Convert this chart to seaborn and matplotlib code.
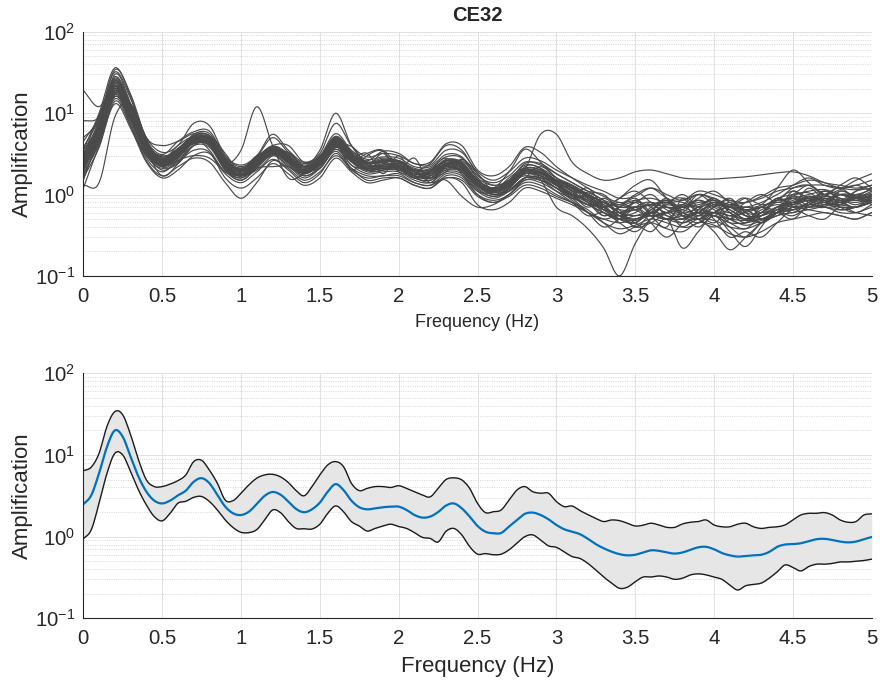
import numpy as np
import pandas as pd
import matplotlib
matplotlib.use("Agg")
import matplotlib.pyplot as plt
from matplotlib.ticker import LogLocator, FuncFormatter, NullLocator
import seaborn as sns

# ---------------------------------------------------------------------------
# Site CE32: spectral amplification of individual records (0.1 Hz knots)
# ---------------------------------------------------------------------------
record_freq = [round(0.1 * i, 1) for i in range(51)]

site_records = [
    [3.0, 8.0, 26, 12, 4.2, 2.8, 3.4, 5.5, 5.6, 2.8, 2.0, 2.6, 3.9, 3.2, 2.3, 2.9, 5.2, 3.4, 2.5, 2.8, 2.6, 2.0, 2.1, 2.9, 2.8, 1.6, 1.3, 1.5, 2.3, 2.1, 1.6, 1.3, 0.9, 0.7, 0.9, 1.1, 0.8, 0.6, 0.75, 1.0, 0.75, 0.6, 0.8, 1.0, 0.8, 1.0, 1.3, 1.0, 0.85, 1.1, 1.2],
    [1.8, 4.2, 15, 7.5, 2.8, 1.9, 2.6, 3.0, 2.8, 1.9, 1.5, 2.1, 2.2, 2.2, 1.6, 2.1, 3.6, 2.3, 1.8, 1.9, 1.9, 1.5, 1.4, 1.9, 1.8, 1.1, 0.9, 1.1, 1.6, 1.5, 1.1, 0.8, 0.55, 0.6, 0.45, 0.35, 0.5, 0.6, 0.4, 0.45, 0.6, 0.45, 0.38, 0.55, 0.6, 0.5, 0.75, 0.9, 0.7, 0.6, 0.75],
    [19, 12, 22, 11, 4.0, 3.0, 3.5, 5.0, 4.8, 2.6, 2.1, 2.7, 3.3, 2.9, 2.2, 2.7, 4.6, 3.0, 2.4, 2.6, 2.5, 2.0, 1.9, 2.6, 2.5, 1.5, 1.2, 1.4, 2.0, 1.9, 1.5, 1.1, 1.0, 0.7, 0.8, 0.65, 0.55, 0.8, 0.9, 0.6, 0.7, 0.9, 0.6, 0.6, 0.85, 1.1, 0.9, 0.8, 1.1, 0.95, 0.85],
    [1.3, 1.4, 9.0, 13, 4.5, 2.2, 2.4, 4.0, 4.2, 2.2, 1.7, 2.3, 3.2, 2.5, 1.9, 2.4, 4.0, 2.6, 2.0, 2.2, 2.1, 1.7, 1.6, 2.2, 2.0, 1.3, 1.0, 1.2, 1.8, 1.7, 1.3, 1.0, 0.75, 0.8, 0.55, 0.45, 0.7, 0.85, 0.55, 0.6, 0.8, 0.5, 0.45, 0.7, 0.65, 0.95, 1.05, 0.8, 0.75, 0.9, 0.8],
    [2.8, 6.5, 22, 10, 3.8, 2.6, 3.0, 4.5, 4.0, 2.4, 3.5, 12, 4.0, 1.6, 1.8, 2.4, 4.0, 2.7, 2.1, 2.4, 2.2, 1.9, 1.7, 2.3, 2.4, 1.4, 1.1, 1.4, 2.0, 1.7, 1.3, 1.2, 0.8, 0.55, 0.7, 0.9, 0.6, 0.5, 0.7, 0.55, 0.6, 0.8, 0.55, 0.45, 0.6, 0.9, 0.75, 1.1, 0.85, 0.7, 1.0],
    [3.5, 7.0, 24, 11, 4.0, 2.7, 3.6, 5.2, 5.0, 2.6, 2.0, 2.8, 3.8, 2.9, 2.2, 3.5, 10, 4.0, 2.5, 2.7, 2.6, 2.1, 2.0, 2.7, 2.5, 1.5, 1.2, 1.5, 2.1, 2.0, 1.5, 1.2, 1.0, 0.8, 0.7, 0.7, 0.75, 0.8, 0.7, 0.75, 0.85, 0.7, 0.65, 0.7, 0.85, 0.9, 1.0, 1.1, 1.0, 0.9, 1.05],
    [2.2, 5.0, 17, 8.5, 3.3, 2.3, 2.9, 4.2, 4.0, 2.1, 1.7, 2.3, 3.1, 2.5, 1.9, 2.3, 3.8, 2.6, 2.0, 2.1, 2.1, 1.7, 1.6, 2.0, 2.0, 1.3, 1.1, 1.3, 2.0, 5.5, 5.5, 2.5, 1.8, 1.5, 1.6, 1.9, 2.0, 1.8, 1.6, 1.55, 1.55, 1.6, 1.65, 1.75, 1.85, 1.9, 1.7, 1.4, 1.3, 1.2, 1.3],
    [2.6, 5.5, 19, 9.0, 3.4, 2.4, 3.1, 4.6, 4.3, 2.2, 1.7, 2.4, 3.4, 2.6, 1.9, 2.5, 4.2, 2.7, 2.1, 2.2, 2.2, 1.8, 1.7, 2.3, 2.1, 1.3, 1.05, 1.25, 1.8, 1.5, 0.7, 0.55, 0.38, 0.22, 0.10, 0.25, 0.5, 0.6, 0.55, 0.5, 0.6, 0.55, 0.5, 0.55, 0.7, 0.8, 0.85, 0.9, 0.85, 0.8, 0.9],
    [1.6, 3.8, 14, 7.0, 2.6, 1.7, 2.2, 2.8, 2.5, 1.4, 0.9, 1.4, 2.6, 2.0, 1.4, 1.8, 3.2, 2.0, 1.6, 1.7, 1.7, 1.4, 1.3, 1.8, 1.7, 1.0, 0.8, 1.0, 1.4, 1.3, 1.0, 0.8, 0.6, 0.45, 0.38, 0.42, 0.5, 0.45, 0.4, 0.5, 0.48, 0.4, 0.38, 0.45, 0.55, 0.6, 0.65, 0.7, 0.6, 0.6, 0.7],
    [4.5, 9.0, 32, 15, 5.0, 3.3, 4.0, 7.5, 7.0, 3.0, 2.3, 3.0, 5.5, 3.5, 2.5, 3.2, 7.5, 4.0, 2.9, 3.2, 3.0, 2.4, 2.3, 3.5, 3.3, 1.9, 1.5, 1.9, 2.8, 2.6, 2.0, 1.6, 1.3, 1.1, 0.9, 0.95, 1.2, 1.0, 0.85, 1.1, 1.0, 0.85, 0.8, 0.95, 1.2, 1.3, 1.5, 1.4, 1.2, 1.3, 1.5],
    [1.2, 4.0, 13, 6.5, 2.5, 1.6, 2.0, 3.0, 3.2, 1.8, 1.4, 1.9, 2.7, 2.1, 1.5, 1.9, 3.0, 2.1, 1.7, 1.7, 1.8, 1.4, 1.3, 1.6, 1.5, 0.95, 0.8, 0.95, 1.3, 1.2, 0.95, 0.8, 0.65, 0.45, 0.33, 0.4, 0.45, 0.38, 0.35, 0.45, 0.42, 0.33, 0.3, 0.35, 0.45, 0.5, 0.55, 0.6, 0.55, 0.5, 0.6],
    [2.4, 6.5, 21, 10, 3.7, 2.6, 3.3, 4.9, 4.8, 2.4, 1.9, 2.6, 3.6, 2.8, 2.0, 2.6, 4.5, 2.9, 3.2, 1.8, 3.0, 1.6, 1.9, 2.5, 2.3, 1.4, 1.15, 1.4, 2.0, 1.9, 1.4, 1.0, 1.2, 0.7, 0.5, 0.85, 0.55, 0.4, 0.9, 0.6, 0.45, 0.7, 0.9, 0.5, 0.6, 1.1, 0.8, 0.7, 1.1, 0.9, 0.8],
    [2.0, 5.2, 18, 9.0, 3.2, 2.2, 2.9, 4.3, 4.1, 2.1, 1.6, 2.3, 3.3, 2.5, 1.8, 2.4, 4.1, 2.6, 2.0, 2.1, 2.1, 1.7, 1.6, 2.1, 2.0, 1.2, 0.95, 1.15, 1.6, 1.6, 1.2, 0.85, 0.6, 0.5, 0.55, 0.45, 0.35, 0.5, 0.22, 0.35, 0.55, 0.4, 0.3, 0.45, 0.6, 0.55, 0.7, 0.8, 0.65, 0.7, 0.85],
    [3.2, 7.5, 25, 12, 4.3, 2.9, 3.7, 5.3, 5.2, 2.6, 2.0, 2.9, 4.0, 4.0, 2.5, 2.9, 5.0, 3.1, 2.5, 2.6, 2.6, 2.0, 2.0, 2.6, 2.4, 1.5, 1.2, 1.45, 2.1, 2.0, 1.5, 1.2, 0.95, 0.65, 0.5, 0.45, 0.6, 0.55, 0.45, 0.5, 0.35, 0.21, 0.3, 0.45, 0.6, 0.75, 0.85, 0.95, 0.9, 0.85, 1.0],
    [2.3, 4.5, 17, 13, 4.5, 2.4, 2.6, 4.0, 5.2, 3.2, 1.8, 2.0, 3.0, 3.3, 2.2, 2.1, 3.8, 3.9, 2.3, 2.0, 2.4, 2.0, 1.6, 1.9, 2.7, 1.8, 1.1, 1.1, 1.6, 2.2, 1.6, 1.2, 1.0, 0.8, 0.6, 0.55, 0.6, 0.75, 0.65, 0.6, 0.8, 0.7, 0.55, 0.55, 0.65, 0.85, 0.9, 0.85, 1.0, 0.85, 0.85],
    [3.0, 9.5, 22, 7.0, 3.0, 2.6, 4.0, 5.0, 3.5, 1.9, 1.9, 3.0, 3.2, 2.2, 1.9, 3.0, 4.0, 2.3, 2.1, 2.5, 2.1, 1.6, 2.0, 2.8, 1.8, 1.1, 1.1, 1.6, 2.1, 1.6, 1.2, 1.0, 0.85, 0.65, 0.6, 0.65, 0.75, 0.6, 0.7, 0.85, 0.65, 0.55, 0.6, 0.7, 0.85, 0.8, 0.9, 1.0, 0.8, 0.9, 1.1],
    [2.7, 6.8, 23, 10.5, 3.9, 2.7, 3.4, 5.0, 4.9, 2.5, 2.0, 2.8, 3.8, 3.0, 2.2, 2.8, 4.8, 3.2, 2.6, 3.4, 3.2, 2.4, 2.5, 4.2, 4.0, 2.0, 1.7, 2.2, 3.8, 3.3, 2.2, 1.6, 1.2, 0.95, 0.8, 0.85, 0.9, 0.8, 0.85, 1.0, 0.9, 0.75, 0.8, 0.9, 1.1, 1.2, 1.3, 1.3, 1.2, 1.15, 1.3],
    [2.1, 5.6, 19, 9.0, 3.3, 2.2, 2.9, 4.3, 4.0, 2.0, 1.6, 2.2, 3.0, 2.3, 1.7, 2.1, 3.4, 2.1, 1.5, 1.6, 1.6, 1.3, 1.2, 1.6, 1.4, 0.75, 0.65, 0.8, 1.2, 1.1, 0.9, 0.75, 0.6, 0.5, 0.45, 0.5, 0.55, 0.5, 0.55, 0.6, 0.55, 0.5, 0.48, 0.5, 0.6, 0.65, 0.7, 0.75, 0.7, 0.7, 0.8],
    [2.9, 7.2, 24, 11, 4.0, 2.8, 3.5, 5.1, 4.8, 2.5, 2.0, 2.7, 3.7, 2.9, 2.1, 2.7, 4.7, 3.0, 2.4, 2.5, 2.5, 2.0, 1.9, 2.6, 2.4, 1.45, 1.2, 1.4, 2.0, 1.9, 1.5, 1.3, 1.0, 0.8, 0.75, 1.0, 1.2, 0.9, 0.7, 0.9, 1.1, 0.8, 0.7, 0.75, 1.2, 2.0, 1.4, 1.0, 1.3, 1.6, 1.2],
    [2.5, 6.2, 20, 9.7, 3.6, 2.5, 3.2, 4.7, 4.6, 2.3, 1.8, 2.5, 3.5, 2.7, 2.0, 2.6, 4.4, 2.0, 3.0, 3.4, 1.9, 1.8, 1.8, 2.4, 2.2, 1.35, 1.1, 1.3, 1.9, 1.8, 1.4, 1.1, 0.8, 0.7, 0.9, 1.3, 1.5, 0.9, 0.6, 0.7, 0.9, 0.6, 0.45, 0.6, 0.8, 0.7, 0.75, 0.95, 0.8, 0.7, 0.9],
    [3.8, 8.5, 28, 13, 4.6, 3.1, 4.5, 5.9, 6.0, 2.9, 2.2, 2.9, 5.0, 3.3, 2.4, 3.0, 5.6, 3.5, 2.7, 2.9, 2.8, 2.2, 2.2, 3.1, 2.9, 1.7, 1.4, 1.7, 2.5, 2.3, 1.8, 1.4, 1.1, 1.0, 0.7, 0.8, 1.0, 0.7, 0.65, 1.0, 0.85, 0.7, 0.9, 0.75, 0.85, 1.2, 1.3, 1.0, 1.15, 1.3, 1.1],
    [1.9, 4.8, 16, 8.0, 3.0, 2.1, 2.7, 4.0, 3.8, 2.0, 1.5, 2.1, 3.1, 2.4, 1.7, 2.2, 3.9, 2.5, 1.9, 2.0, 2.0, 1.6, 1.5, 2.0, 1.9, 1.15, 0.95, 1.1, 1.6, 1.5, 1.2, 0.9, 0.6, 0.4, 0.5, 0.7, 0.45, 0.3, 0.45, 0.7, 0.5, 0.3, 0.35, 0.3, 0.45, 0.65, 0.55, 0.5, 0.7, 0.6, 0.55],
    [3.5, 10, 36, 16, 5.0, 4.0, 4.5, 5.6, 5.2, 2.7, 2.1, 2.8, 3.9, 3.0, 2.2, 2.8, 4.9, 3.1, 2.4, 2.5, 2.5, 2.0, 2.0, 2.6, 2.4, 1.5, 1.2, 1.4, 2.1, 2.0, 1.5, 1.25, 0.9, 0.65, 0.55, 0.8, 0.7, 0.5, 0.6, 0.85, 0.7, 0.55, 0.7, 0.6, 0.7, 0.95, 0.85, 1.0, 1.2, 0.9, 0.95],
    [2.2, 5.0, 18, 8.5, 3.2, 2.0, 2.5, 3.5, 3.3, 1.6, 1.2, 1.6, 2.4, 1.8, 1.3, 1.6, 2.8, 1.9, 1.4, 1.5, 1.6, 1.3, 1.2, 1.7, 1.6, 1.0, 0.85, 1.0, 1.5, 1.4, 1.1, 0.9, 0.75, 0.6, 0.5, 0.48, 0.55, 0.5, 0.5, 0.6, 0.55, 0.45, 0.45, 0.5, 0.6, 0.7, 0.75, 0.8, 0.75, 0.7, 0.8],
    [2.6, 6.0, 20, 9.5, 3.6, 2.5, 3.2, 4.8, 4.4, 2.3, 1.8, 2.5, 3.4, 2.6, 1.9, 2.5, 4.3, 2.8, 2.2, 3.2, 2.0, 2.8, 1.4, 2.4, 2.2, 1.3, 1.1, 1.3, 1.9, 1.8, 1.4, 1.0, 0.7, 0.9, 0.65, 0.4, 0.6, 0.9, 0.55, 0.4, 0.55, 0.35, 0.23, 0.4, 0.7, 0.6, 0.8, 1.1, 0.9, 0.75, 0.95],
    [8.0, 9.0, 25, 11, 3.9, 2.7, 3.3, 4.9, 4.6, 2.4, 1.9, 2.5, 3.5, 2.8, 2.0, 2.6, 4.5, 2.8, 2.3, 2.3, 2.4, 1.9, 1.8, 2.4, 2.3, 1.4, 1.1, 1.35, 1.9, 1.85, 1.45, 1.1, 1.05, 0.85, 0.6, 0.5, 0.65, 0.8, 0.6, 0.55, 0.75, 0.65, 0.5, 0.6, 0.9, 0.75, 0.95, 0.8, 1.0, 0.95, 1.2],
    [2.0, 5.8, 21, 10, 3.5, 1.7, 2.4, 4.6, 4.4, 2.2, 1.7, 2.4, 3.4, 2.6, 1.9, 2.5, 4.2, 2.7, 2.1, 2.2, 2.2, 1.7, 1.7, 2.3, 2.1, 1.3, 1.05, 1.25, 1.8, 1.7, 1.3, 1.05, 0.85, 0.55, 0.7, 0.8, 0.6, 0.75, 1.0, 0.7, 0.55, 0.75, 0.65, 0.55, 0.9, 0.75, 1.2, 0.85, 0.75, 1.1, 1.3],
    [2.8, 6.6, 22, 10, 3.8, 2.6, 3.3, 4.8, 4.7, 2.4, 1.9, 2.6, 3.6, 2.8, 2.0, 2.6, 4.5, 2.9, 2.2, 2.3, 2.3, 1.8, 1.8, 2.4, 2.2, 1.35, 1.1, 1.3, 1.9, 1.8, 1.35, 1.0, 0.9, 0.6, 0.5, 0.7, 0.8, 0.55, 0.5, 0.65, 0.9, 0.6, 0.5, 0.65, 0.75, 0.7, 0.65, 0.6, 0.55, 0.5, 0.6],
    [2.4, 6.0, 19, 9.2, 3.5, 2.4, 3.1, 4.6, 4.5, 2.3, 1.8, 2.5, 3.5, 2.7, 2.0, 2.6, 4.4, 2.8, 2.2, 2.3, 2.3, 1.8, 1.8, 2.4, 2.2, 1.35, 1.1, 1.3, 1.9, 1.8, 1.4, 1.15, 0.95, 0.75, 0.65, 0.65, 0.75, 0.7, 0.7, 0.8, 0.8, 0.7, 0.7, 0.8, 1.0, 1.3, 1.6, 1.3, 1.2, 1.5, 1.8],
    [1.7, 4.5, 16, 8.5, 3.2, 2.3, 3.0, 4.4, 4.2, 2.1, 1.7, 2.3, 3.3, 2.5, 1.8, 2.4, 4.1, 2.6, 2.0, 2.1, 2.1, 1.7, 1.7, 2.2, 2.0, 1.25, 1.0, 1.2, 1.8, 1.7, 1.3, 0.95, 0.75, 0.8, 0.6, 0.4, 0.45, 0.6, 0.75, 0.5, 0.4, 0.5, 0.65, 0.5, 0.55, 0.7, 0.85, 0.7, 0.75, 0.95, 0.8],
    [1.5, 5.5, 30, 13, 4.0, 2.3, 2.8, 4.6, 5.0, 2.5, 1.7, 2.2, 3.8, 3.0, 1.9, 2.3, 4.8, 3.3, 2.0, 2.0, 2.6, 1.9, 1.5, 2.2, 2.6, 1.6, 1.0, 1.2, 2.2, 2.1, 1.3, 0.9, 1.0, 0.75, 0.5, 0.45, 0.65, 0.8, 0.6, 0.5, 0.7, 0.85, 0.6, 0.45, 0.6, 0.8, 0.7, 0.75, 1.0, 0.95, 0.75],
    [2.3, 5.6, 18, 9.0, 3.4, 2.4, 3.0, 4.4, 4.3, 2.2, 1.75, 2.4, 3.3, 2.6, 1.9, 2.4, 3.6, 2.6, 3.2, 3.5, 2.2, 1.6, 1.9, 2.3, 1.9, 1.3, 1.2, 1.4, 1.7, 1.6, 1.5, 1.3, 1.0, 0.7, 0.55, 0.6, 0.8, 0.65, 0.5, 0.6, 0.75, 0.65, 0.5, 0.55, 0.7, 0.65, 0.8, 0.9, 0.8, 0.95, 1.0],
    [5.0, 8.0, 27, 12, 4.3, 2.9, 3.6, 5.3, 5.3, 2.7, 2.1, 2.8, 3.9, 3.1, 2.2, 2.8, 5.1, 3.2, 2.5, 2.6, 2.5, 2.0, 2.4, 4.0, 3.5, 1.8, 1.3, 1.5, 2.4, 2.4, 1.8, 1.4, 1.1, 0.85, 0.75, 0.7, 0.75, 0.85, 0.8, 0.7, 0.8, 0.75, 0.65, 0.7, 0.9, 1.0, 1.1, 1.15, 1.0, 1.0, 1.15],
    [2.1, 5.3, 17, 8.5, 3.3, 2.3, 3.0, 4.3, 4.2, 2.1, 1.7, 2.4, 3.3, 2.5, 1.8, 2.4, 4.0, 2.6, 2.0, 2.1, 2.0, 1.6, 1.4, 1.5, 0.95, 0.7, 0.75, 1.0, 1.5, 1.5, 1.2, 0.95, 0.75, 0.6, 0.5, 0.55, 0.6, 0.5, 0.45, 0.55, 0.6, 0.5, 0.42, 0.48, 0.6, 0.65, 0.75, 0.7, 0.65, 0.7, 0.8],
    [2.7, 8.0, 34, 17, 4.8, 2.6, 3.0, 4.6, 4.7, 2.4, 1.9, 2.6, 3.5, 2.8, 2.1, 2.7, 4.6, 3.0, 2.3, 2.2, 2.3, 1.9, 1.8, 2.3, 2.1, 1.3, 1.1, 1.35, 1.8, 1.7, 1.3, 1.0, 0.8, 0.65, 0.6, 0.7, 0.55, 0.6, 0.75, 0.65, 0.6, 0.5, 0.62, 0.7, 0.6, 0.8, 0.95, 0.85, 0.8, 0.9, 0.95],
    [2.5, 5.8, 19, 9.5, 3.5, 2.5, 3.1, 4.5, 4.3, 2.2, 1.7, 2.3, 3.3, 2.6, 1.9, 2.5, 4.2, 2.7, 2.1, 2.2, 2.2, 1.7, 1.6, 2.1, 2.0, 1.3, 1.2, 1.9, 3.6, 2.5, 1.6, 1.2, 0.95, 0.7, 0.55, 0.5, 0.6, 0.7, 0.55, 0.45, 0.6, 0.7, 0.55, 0.5, 0.65, 0.8, 0.9, 0.75, 0.8, 1.0, 0.9],
]

# ---------------------------------------------------------------------------
# Summary statistics (0.05 Hz knots): mean and the +/- one sigma envelope
# ---------------------------------------------------------------------------
stat_freq = [round(0.05 * i, 2) for i in range(101)]

mean_amp = [
    2.49, 3.2, 6.0, 12.6, 20, 16.7, 9.5, 5.4, 3.55, 2.76,
    2.55, 2.76, 3.2, 3.66, 4.7, 5.2, 4.5, 3.24, 2.33, 1.93,
    1.84, 2.02, 2.51, 3.16, 3.52, 3.27, 2.69, 2.18, 1.99, 2.16,
    2.61, 3.55, 4.4, 3.72, 2.76, 2.29, 2.16, 2.22, 2.29, 2.33,
    2.33, 2.12, 1.84, 1.71, 1.76, 2.0, 2.4, 2.55, 2.22, 1.76,
    1.35, 1.15, 1.10, 1.11, 1.33, 1.6, 1.9, 1.97, 1.84, 1.63,
    1.39, 1.23, 1.15, 1.07, 0.94, 0.81, 0.72, 0.655, 0.61, 0.59,
    0.60, 0.64, 0.68, 0.67, 0.64, 0.62, 0.64, 0.69, 0.74, 0.75,
    0.70, 0.63, 0.59, 0.57, 0.58, 0.59, 0.60, 0.65, 0.75, 0.80,
    0.81, 0.83, 0.88, 0.93, 0.94, 0.91, 0.87, 0.85, 0.87, 0.93,
    0.99,
]

upper_amp = [
    6.4, 7.1, 10.5, 22.4, 34, 31, 17.6, 8.7, 4.95, 4.1,
    4.1, 4.4, 4.85, 5.7, 8.3, 8.6, 6.5, 4.5, 2.8, 2.76,
    3.4, 4.3, 5.2, 5.7, 5.8, 5.4, 4.6, 3.66, 3.16, 4.1,
    5.7, 7.55, 8.3, 7.2, 4.5, 3.66, 3.9, 4.1, 4.1, 4.0,
    4.2, 3.9, 3.55, 3.24, 3.07, 3.9, 5.0, 5.25, 4.95, 3.9,
    2.56, 1.97, 2.02, 2.12, 2.81, 3.72, 4.1, 3.55, 3.4, 3.4,
    2.69, 2.33, 2.37, 2.08, 1.86, 1.67, 1.53, 1.6, 1.57, 1.46,
    1.35, 1.38, 1.46, 1.39, 1.30, 1.30, 1.43, 1.50, 1.53, 1.6,
    1.39, 1.32, 1.32, 1.42, 1.46, 1.32, 1.26, 1.30, 1.32, 1.39,
    1.6, 1.84, 1.93, 1.93, 1.97, 1.84, 1.6, 1.50, 1.53, 1.84,
    1.9,
]

lower_amp = [
    0.94, 1.21, 2.57, 5.97, 10.5, 10.0, 6.25, 3.72, 2.44, 1.76,
    1.56, 1.93, 2.57, 2.71, 3.03, 3.1, 2.69, 2.12, 1.6, 1.29,
    1.13, 1.12, 1.22, 1.6, 2.12, 1.97, 1.53, 1.26, 1.25, 1.24,
    1.42, 1.93, 2.38, 2.02, 1.53, 1.35, 1.17, 1.26, 1.35, 1.42,
    1.33, 1.26, 1.12, 0.98, 0.95, 0.86, 1.16, 1.26, 1.05, 0.755,
    0.61, 0.62, 0.60, 0.61, 0.69, 0.83, 1.0, 1.05, 0.91, 0.77,
    0.74, 0.65, 0.57, 0.54, 0.47, 0.39, 0.32, 0.27, 0.233, 0.24,
    0.28, 0.32, 0.32, 0.33, 0.32, 0.30, 0.31, 0.34, 0.35, 0.34,
    0.32, 0.30, 0.255, 0.222, 0.25, 0.26, 0.27, 0.31, 0.37, 0.45,
    0.42, 0.38, 0.43, 0.46, 0.46, 0.47, 0.49, 0.49, 0.50, 0.51,
    0.53,
]

freq_ticks = [0, 0.5, 1, 1.5, 2, 2.5, 3, 3.5, 4, 4.5, 5]
title_text = "CE32"
x_label = "Frequency (Hz)"
y_label = "Amplification"


def smooth_log(x, y, n=10):
    """Catmull-Rom curve through evenly spaced knots, in log10 amplitude."""
    x = np.asarray(x, float)
    ly = np.log10(np.asarray(y, float))
    p = np.concatenate([[2 * ly[0] - ly[1]], ly, [2 * ly[-1] - ly[-2]]])
    t = np.linspace(0, 1, n, endpoint=False)
    parts = []
    for i in range(len(ly) - 1):
        p0, p1, p2, p3 = p[i], p[i + 1], p[i + 2], p[i + 3]
        parts.append(0.5 * (2 * p1 + (-p0 + p2) * t
                            + (2 * p0 - 5 * p1 + 4 * p2 - p3) * t ** 2
                            + (-p0 + 3 * p1 - 3 * p2 + p3) * t ** 3))
    parts.append([ly[-1]])
    xs = np.linspace(x[0], x[-1], (len(x) - 1) * n + 1)
    return xs, 10 ** np.concatenate(parts)


# long-form table of the individual records
rows = []
for rid, amps in enumerate(site_records):
    xs, ys = smooth_log(record_freq, amps)
    rows.append(pd.DataFrame({"freq": xs, "amp": ys, "record": rid}))
records_df = pd.concat(rows, ignore_index=True)

sx, s_mean = smooth_log(stat_freq, mean_amp, n=6)
_, s_up = smooth_log(stat_freq, upper_amp, n=6)
_, s_lo = smooth_log(stat_freq, lower_amp, n=6)
stats_df = pd.DataFrame({"freq": sx, "mean": s_mean, "upper": s_up, "lower": s_lo})

# ---------------------------------------------------------------------------
# Styling
# ---------------------------------------------------------------------------
sns.set_style("white")
plt.rcParams.update({
    "font.family": ["Liberation Sans", "DejaVu Sans"],
    "mathtext.fontset": "custom",
    "mathtext.rm": "Liberation Sans",
    "mathtext.it": "Liberation Sans:italic",
    "mathtext.bf": "Liberation Sans:bold",
    "axes.unicode_minus": False,
})

AX_COLOR = "#262626"

fig = plt.figure(figsize=(8.8, 6.86), dpi=100)
ax_top = fig.add_axes([0.0947, 0.5977, 0.8959, 0.3561])
ax_bot = fig.add_axes([0.0947, 0.0987, 0.8959, 0.3571])


def style_axis(ax, xlabel_size):
    ax.set_yscale("log")
    ax.set_xlim(0, 5)
    ax.set_ylim(0.1, 100)
    ax.set_xticks(freq_ticks)
    ax.xaxis.set_major_formatter(FuncFormatter(lambda v, _: f"{v:g}"))
    ax.xaxis.set_minor_locator(NullLocator())
    ax.yaxis.set_major_locator(LogLocator(base=10, numticks=10))
    ax.yaxis.set_minor_locator(LogLocator(base=10, subs=np.arange(2, 10), numticks=20))
    ax.set_axisbelow(True)
    ax.grid(True, which="major", axis="both", color="#e1e1e1", linewidth=0.7)
    ax.grid(True, which="minor", axis="y", color="#d4d4d4", linewidth=0.6,
            linestyle=(0, (1.2, 1.6)))
    for side in ("top", "right"):
        ax.spines[side].set_visible(False)
    for side in ("left", "bottom"):
        ax.spines[side].set_color(AX_COLOR)
        ax.spines[side].set_linewidth(0.8)
    ax.tick_params(which="both", direction="in", top=False, right=False,
                   colors=AX_COLOR, labelsize=14.7, width=0.8)
    ax.tick_params(which="major", length=6, pad=8)
    ax.tick_params(axis="y", which="major", pad=6)
    ax.tick_params(which="minor", length=3)
    ax.set_ylabel(y_label, fontsize=16, color=AX_COLOR)
    ax.yaxis.set_label_coords(-0.064, 0.5)
    ax.set_xlabel(x_label, fontsize=xlabel_size, color=AX_COLOR)
    ax.xaxis.set_label_coords(0.5, -0.155)


# top: every record
sns.lineplot(data=records_df, x="freq", y="amp", units="record", estimator=None,
             color="#4a4a4a", linewidth=0.85, ax=ax_top, legend=False, sort=False)
style_axis(ax_top, 13)
ax_top.set_title(title_text, fontsize=14.5, fontweight="bold", pad=8)

# bottom: mean with one-sigma envelope
ax_bot.fill_between(stats_df["freq"], stats_df["lower"], stats_df["upper"],
                    color="#e6e6e6", linewidth=0)
sns.lineplot(data=stats_df, x="freq", y="upper", color="#1a1a1a", linewidth=1.0, ax=ax_bot)
sns.lineplot(data=stats_df, x="freq", y="lower", color="#1a1a1a", linewidth=1.0, ax=ax_bot)
sns.lineplot(data=stats_df, x="freq", y="mean", color="#0072BD", linewidth=1.6, ax=ax_bot)
style_axis(ax_bot, 16)

fig.savefig("out.png", dpi=100)
